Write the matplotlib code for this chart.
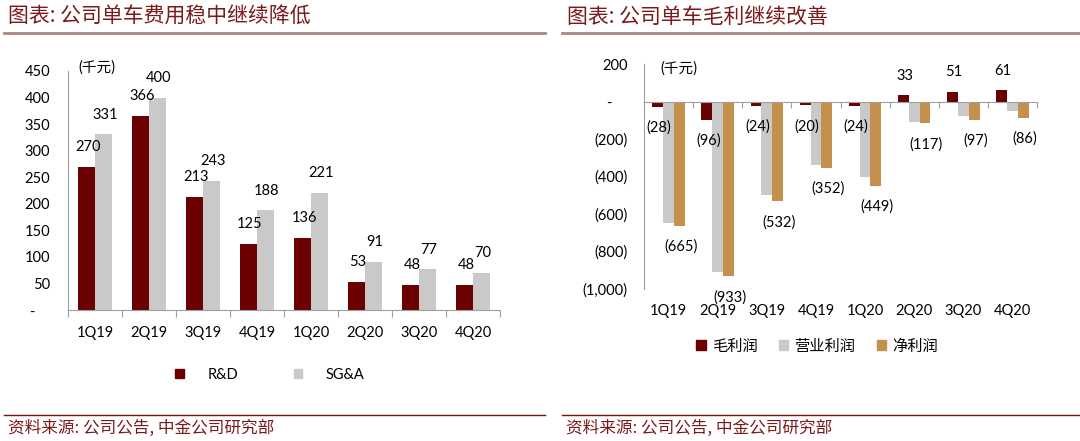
import numpy as np
import matplotlib
matplotlib.use('Agg')
import matplotlib.pyplot as plt
from matplotlib.patches import Patch

plt.rcParams['font.family'] = ['Lato', 'Noto Sans CJK SC', 'DejaVu Sans']

# Dados
quarters = ['1Q19', '2Q19', '3Q19', '4Q19', '1Q20', '2Q20', '3Q20', '4Q20']
rd = [270, 366, 213, 125, 136, 53, 48, 48]
sga = [331, 400, 243, 188, 221, 91, 77, 70]
gross = [-28, -96, -24, -20, -24, 33, 51, 61]
operating = [-650, -907, -500, -340, -405, -107, -75, -50]
net = [-665, -933, -532, -352, -449, -117, -97, -86]

left_yticks = [0, 50, 100, 150, 200, 250, 300, 350, 400, 450]
right_yticks = [200, 0, -200, -400, -600, -800, -1000]

MAROON = '#6B0000'
GRAY = '#C9C9C9'
TAN = '#C4904E'
AXIS = '#A0A0A0'
TITLE_RED = '#7A1A1A'
LINE_RED = '#B08282'


def fmt_acc(v):
    if v == 0:
        return '-    '
    if v < 0:
        return '({:,})'.format(-v)
    return '{:,}'.format(v)


fig = plt.figure(figsize=(10.8, 4.41), dpi=100)

# Títulos e rodapés
fig.text(8 / 1080, 1 - 17 / 441, '图表: 公司单车费用稳中继续降低', fontsize=15,
         color=TITLE_RED, va='center', ha='left', family='Noto Sans CJK SC')
fig.text(567 / 1080, 1 - 17 / 441, '图表: 公司单车毛利继续改善', fontsize=15,
         color=TITLE_RED, va='center', ha='left', family='Noto Sans CJK SC')
fig.add_artist(plt.Line2D([4 / 1080, 545 / 1080], [1 - 33 / 441] * 2, color=LINE_RED, lw=2))
fig.add_artist(plt.Line2D([562 / 1080, 1.0], [1 - 33 / 441] * 2, color=LINE_RED, lw=2))
fig.add_artist(plt.Line2D([4 / 1080, 545 / 1080], [1 - 415 / 441] * 2, color='#7A1010', lw=1))
fig.add_artist(plt.Line2D([562 / 1080, 1.0], [1 - 415 / 441] * 2, color='#7A1010', lw=1))
fig.text(8 / 1080, 1 - 428 / 441, '资料来源: 公司公告, 中金公司研究部', fontsize=12,
         color=TITLE_RED, va='center', ha='left', family='Noto Sans CJK SC')
fig.text(566 / 1080, 1 - 428 / 441, '资料来源: 公司公告, 中金公司研究部', fontsize=12,
         color=TITLE_RED, va='center', ha='left', family='Noto Sans CJK SC')

# Gráfico da esquerda
ax1 = fig.add_axes([68 / 1080, (441 - 310) / 441, 432 / 1080, 239 / 441])
x = np.arange(len(quarters))
w = 0.31
b1 = ax1.bar(x - w / 2, rd, w, color=MAROON, label='R&D')
b2 = ax1.bar(x + w / 2, sga, w, color=GRAY, label='SG&A')
for bars, vals in [(b1, rd), (b2, sga)]:
    for r, v in zip(bars, vals):
        ax1.annotate(str(v), (r.get_x() + r.get_width() / 2, v), xytext=(1, 14),
                     textcoords='offset points', ha='center', va='center', fontsize=10.5)
ax1.set_xlim(-0.5, len(quarters) - 0.5)
ax1.set_ylim(0, 450)
ax1.set_yticks(left_yticks)
ax1.set_yticklabels([fmt_acc(v) for v in left_yticks])
ax1.tick_params(axis='y', length=0, pad=13, labelsize=10.5)
ax1.set_xticks(np.arange(len(quarters) + 1) - 0.5)
ax1.set_xticklabels([])
ax1.tick_params(axis='x', length=5, color=AXIS, direction='out')
for i, q in enumerate(quarters):
    ax1.text(i, -23 / 239, q, transform=ax1.get_xaxis_transform(),
             ha='center', va='center', fontsize=10.5)
for s in ['top', 'right']:
    ax1.spines[s].set_visible(False)
ax1.spines['left'].set_color(AXIS)
ax1.spines['bottom'].set_color(AXIS)
ax1.text(78 / 1080, 1 - 68 / 441, '(千元)', transform=fig.transFigure, fontsize=10.5,
         ha='left', va='center')
fig.legend(handles=[Patch(color=MAROON, label='R&D'), Patch(color=GRAY, label='SG&A')],
           loc='center', bbox_to_anchor=(270 / 1080, 1 - 375 / 441), ncol=2, frameon=False,
           fontsize=10.5, handlelength=0.6, handleheight=0.6, handletextpad=1.6,
           columnspacing=3.8)

# Gráfico da direita
ax2 = fig.add_axes([644 / 1080, (441 - 289) / 441, 393 / 1080, 225 / 441])
w2 = 0.22
series = [(gross, MAROON, '毛利润'), (operating, GRAY, '营业利润'), (net, TAN, '净利润')]
handles = []
for k, (vals, col, name) in enumerate(series):
    bars = ax2.bar(x + (k - 1) * w2, vals, w2, color=col, label=name)
    handles.append(Patch(color=col, label=name))
    if name == '营业利润':
        continue
    for r, v in zip(bars, vals):
        off = 14 if v > 0 else -15
        ax2.annotate(fmt_acc(v), (r.get_x() + r.get_width() / 2, v), xytext=(1, off),
                     textcoords='offset points', ha='center', va='center', fontsize=10.5)
ax2.set_xlim(-0.5, len(quarters) - 0.5)
ax2.set_ylim(-1000, 200)
ax2.set_yticks(right_yticks)
ax2.set_yticklabels([fmt_acc(v) for v in right_yticks])
ax2.tick_params(axis='y', length=0, pad=12, labelsize=10.5)
ax2.spines['bottom'].set_position(('data', 0))
ax2.set_xticks(np.arange(len(quarters) + 1) - 0.5)
ax2.set_xticklabels([])
ax2.tick_params(axis='x', length=4, color=AXIS, direction='out')
for i, q in enumerate(quarters):
    ax2.text(i, -0.1, q, transform=ax2.get_xaxis_transform(), ha='center', va='center',
             fontsize=10.5)
for s in ['top', 'right']:
    ax2.spines[s].set_visible(False)
ax2.spines['left'].set_color(AXIS)
ax2.spines['bottom'].set_color(AXIS)
ax2.text(660 / 1080, 1 - 69 / 441, '(千元)', transform=fig.transFigure, fontsize=10.5,
         ha='left', va='center')
fig.legend(handles=handles, loc='center', bbox_to_anchor=(817 / 1080, 1 - 346 / 441), ncol=3,
           frameon=False, prop={'family': 'Noto Sans CJK SC', 'size': 11},
           handlelength=0.6, handleheight=0.6, handletextpad=0.4, columnspacing=1.4)

fig.savefig('out.png', dpi=100)
